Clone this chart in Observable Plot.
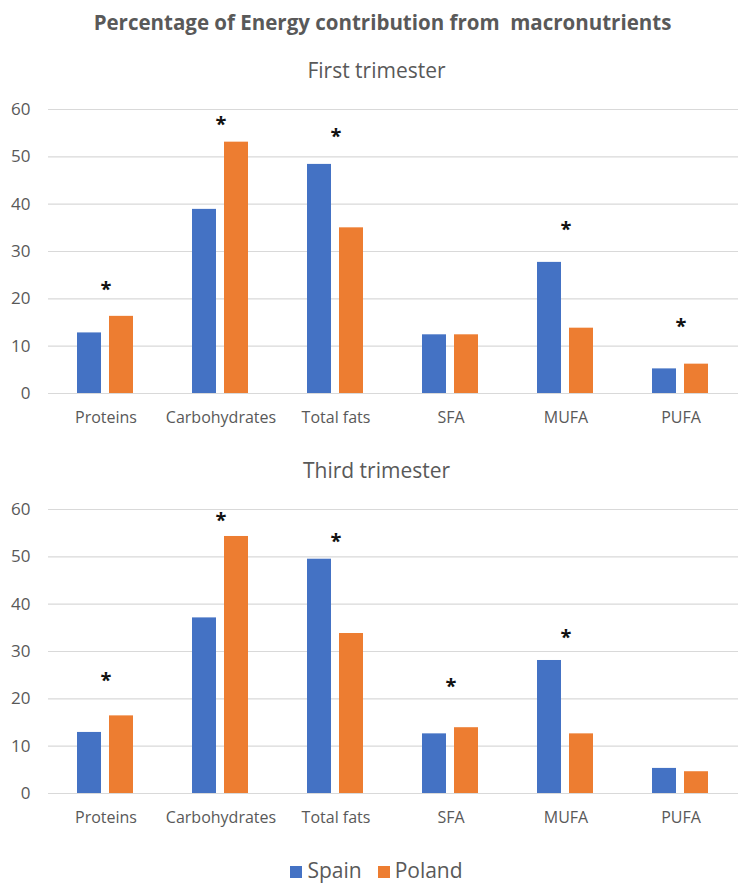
<!DOCTYPE html>
<html>
<head>
<meta charset="utf-8">
<script src="https://cdn.jsdelivr.net/npm/d3@7"></script>
<script src="https://cdn.jsdelivr.net/npm/@observablehq/plot@0.6"></script>
<style>
  body { margin: 0; background: #fff; font-family: "Open Sans", sans-serif; }
  #wrap { position: relative; width: 753px; height: 894px; }
  .title { position: absolute; left: 0; width: 753px; text-align: center; color: #595959; line-height: 28px; }
  #t0 { top: 8px; left: 6px; font-size: 20.5px; font-weight: bold; }
  #t1 { top: 56px; font-size: 21px; }
  #t2 { top: 456px; font-size: 21px; }
  #c1 { position: absolute; left: 0; top: 95px; }
  #c2 { position: absolute; left: 0; top: 495px; }
  #legend { position: absolute; top: 856px; left: 0; width: 753px; display: flex; justify-content: center; align-items: center; gap: 16px; color: #595959; font-size: 21px; }
  .sw { display: inline-block; width: 12px; height: 12px; margin-right: 5px; vertical-align: middle; }
</style>
</head>
<body>
<div id="wrap">
  <div class="title" id="t0">Percentage of Energy contribution from&nbsp; macronutrients</div>
  <div class="title" id="t1">First trimester</div>
  <div id="c1"></div>
  <div class="title" id="t2">Third trimester</div>
  <div id="c2"></div>
  <div id="legend"></div>
</div>
<script>
const categories = ["Proteins", "Carbohydrates", "Total fats", "SFA", "MUFA", "PUFA"];
const countries = ["Spain", "Poland"];
const colors = ["#4472C4", "#ED7D31"];
const yTicks = [0, 10, 20, 30, 40, 50, 60];

const spainFirst  = [12.8, 38.9, 48.4, 12.4, 27.7, 5.2];
const polandFirst = [16.3, 53.1, 35.0, 12.4, 13.8, 6.2];
const starsFirst  = [22.5, 57.5, 55.0, null, 35.3, 14.8];

const spainThird  = [12.9, 37.1, 49.5, 12.6, 28.1, 5.3];
const polandThird = [16.4, 54.3, 33.8, 13.9, 12.6, 4.6];
const starsThird  = [24.4, 58.3, 53.9, 23.3, 33.5, null];

function makeChart(spain, poland, stars) {
  const rows = [];
  categories.forEach((c, i) => {
    rows.push({cat: c, country: "Spain", value: spain[i]});
    rows.push({cat: c, country: "Poland", value: poland[i]});
  });
  const starRows = categories.map((c, i) => ({cat: c, value: stars[i]})).filter(d => d.value != null);
  return Plot.plot({
    width: 753,
    height: 338,
    marginLeft: 48,
    marginRight: 15,
    marginTop: 14,
    marginBottom: 40,
    style: {fontFamily: "Open Sans, sans-serif", color: "#595959", background: "#fff"},
    fx: {domain: categories, padding: 0, label: null},
    x: {domain: countries, paddingInner: 0.24, paddingOuter: 0.88, axis: null},
    y: {domain: [0, 60], label: null},
    color: {domain: countries, range: colors},
    marks: [
      Plot.gridY(yTicks, {stroke: "#d9d9d9", strokeOpacity: 1, strokeWidth: 1.2}),
      Plot.axisY(yTicks, {tickSize: 0, tickPadding: 18, fontSize: 17, label: null}),
      Plot.axisFx({anchor: "bottom", tickSize: 0, tickPadding: 18, fontSize: 16, label: null}),
      Plot.barY(rows, {fx: "cat", x: "country", y: "value", fill: "country"}),
      Plot.text(starRows, {fx: "cat", y: "value", text: () => "*", fontSize: 20, fontWeight: "bold", fill: "#111", dy: 3})
    ]
  });
}

document.getElementById("c1").appendChild(makeChart(spainFirst, polandFirst, starsFirst));
document.getElementById("c2").appendChild(makeChart(spainThird, polandThird, starsThird));

const leg = document.getElementById("legend");
countries.forEach((c, i) => {
  const s = document.createElement("span");
  s.innerHTML = `<span class="sw" style="background:${colors[i]}"></span>${c}`;
  leg.appendChild(s);
});
</script>
</body>
</html>
